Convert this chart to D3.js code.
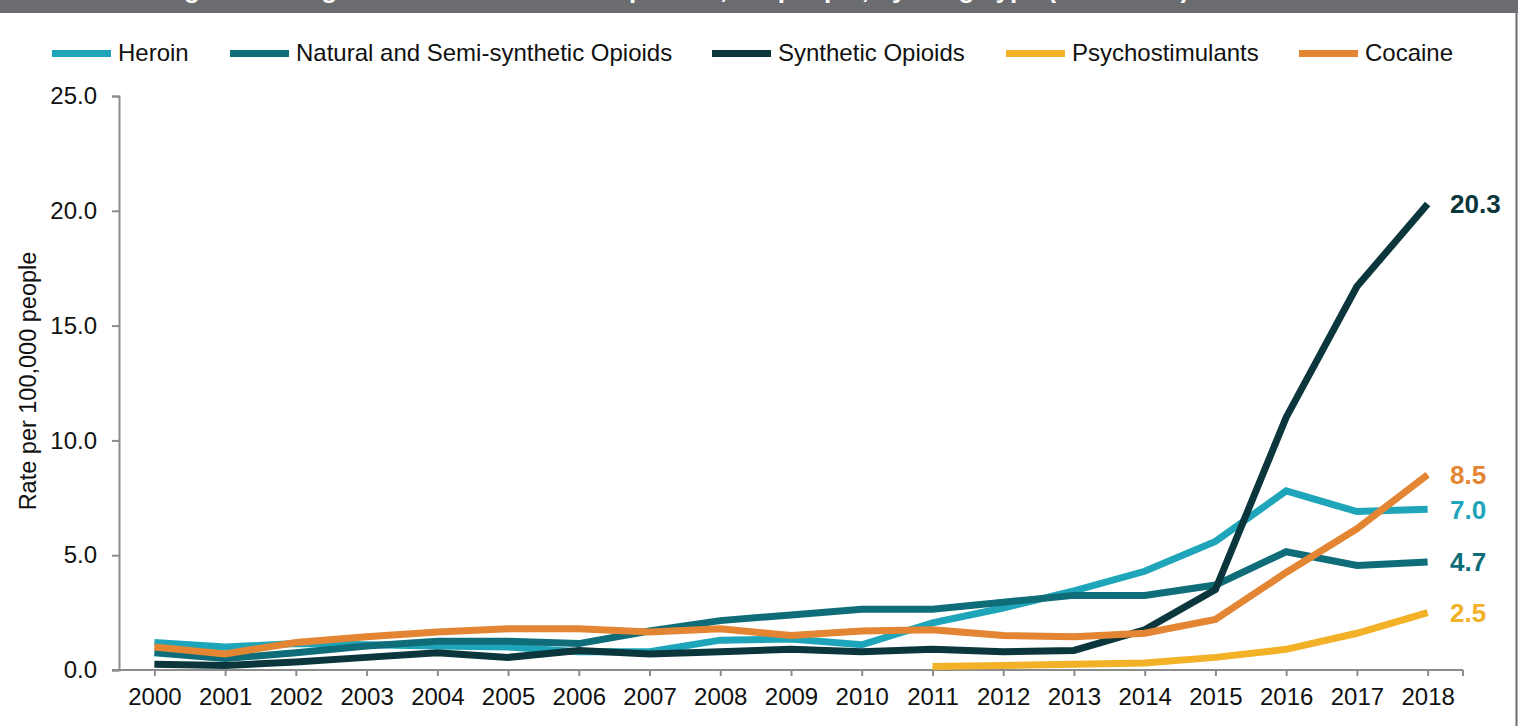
<!DOCTYPE html>
<html><head><meta charset="utf-8">
<script src="https://cdn.jsdelivr.net/npm/d3@7"></script>
<style>body{margin:0;background:#fff;} svg{display:block;font-family:"Liberation Sans",Arial,sans-serif;}</style>
</head><body><svg id="c" width="1518" height="726"></svg>
<script>
const years = [2000,2001,2002,2003,2004,2005,2006,2007,2008,2009,2010,2011,2012,2013,2014,2015,2016,2017,2018];
const heroin     = [1.2,1.0,1.15,1.1,1.05,1.0,0.8,0.8,1.3,1.35,1.1,2.05,2.7,3.45,4.3,5.6,7.8,6.9,7.0];
const natural    = [0.75,0.5,0.75,1.05,1.25,1.25,1.15,1.7,2.15,2.4,2.65,2.65,2.95,3.25,3.25,3.7,5.15,4.55,4.7];
const synthetic  = [0.25,0.2,0.35,0.55,0.75,0.55,0.85,0.7,0.8,0.9,0.8,0.9,0.8,0.85,1.75,3.5,11.0,16.7,20.3];
const psycho     = [null,null,null,null,null,null,null,null,null,null,null,0.15,0.2,0.25,0.3,0.55,0.9,1.6,2.5];
const cocaine    = [1.0,0.7,1.2,1.45,1.65,1.8,1.8,1.65,1.8,1.5,1.7,1.75,1.5,1.45,1.6,2.2,4.25,6.15,8.5];
const seriesNames = ["Heroin","Natural and Semi-synthetic Opioids","Synthetic Opioids","Psychostimulants","Cocaine"];
const yTicks = [0,5,10,15,20,25];
const yTitle = "Rate per 100,000 people";
const title = "Figure 2. Drug Overdose Death Rates per 100,000 people, by Drug Type (2000-2018)";

const colors = ["#1fa5b9","#0e6d78","#0a363c","#f2b127","#e38532"];
const allSeries = [heroin, natural, synthetic, psycho, cocaine];

const svg = d3.select("#c");
const x = d3.scalePoint().domain(years).range([119,1463]).padding(0.5);
const y = d3.scaleLinear().domain([0,25]).range([670,96]);

// title bar (title text is cut off by the top edge, as in the source)
svg.append("rect").attr("x",0).attr("y",0).attr("width",1518).attr("height",13).attr("fill","#6b6c70");
svg.append("text").attr("x",675).attr("y",-2).attr("text-anchor","middle")
  .attr("fill","#fff").attr("font-weight","bold").attr("font-size",26).text(title);
// right border
svg.append("line").attr("x1",1516.5).attr("x2",1516.5).attr("y1",13).attr("y2",726)
  .attr("stroke","#6b6c70").attr("stroke-width",2);

// y axis
const ya = svg.append("g").attr("transform","translate(119,0)")
  .call(d3.axisLeft(y).tickValues(yTicks).tickFormat(d3.format(".1f")).tickSizeOuter(0).tickSize(7).tickPadding(15));
ya.select(".domain").attr("stroke","#8c8c8c").attr("stroke-width",2);
ya.selectAll(".tick line").attr("stroke","#8c8c8c").attr("stroke-width",2);
ya.selectAll(".tick text").attr("font-size",24).attr("fill","#111").attr("font-family","Liberation Sans, Arial, sans-serif");

// x axis
const xa = svg.append("g").attr("transform","translate(0,670)")
  .call(d3.axisBottom(x).tickSizeOuter(0).tickSize(6).tickPadding(12));
xa.select(".domain").remove();
svg.append("line").attr("x1",112).attr("x2",1463).attr("y1",670).attr("y2",670).attr("stroke","#8c8c8c").attr("stroke-width",2);
svg.append("line").attr("x1",1463).attr("x2",1463).attr("y1",670).attr("y2",676).attr("stroke","#8c8c8c").attr("stroke-width",2);
xa.selectAll(".tick line").attr("stroke","#8c8c8c").attr("stroke-width",2);
xa.selectAll(".tick text").attr("font-size",24).attr("fill","#111").attr("font-family","Liberation Sans, Arial, sans-serif");

// y title
svg.append("text").attr("transform","translate(36,381) rotate(-90)").attr("text-anchor","middle")
  .attr("font-size",23.5).attr("fill","#111").text(yTitle);

// lines
const line = d3.line().defined(d=>d.v!=null).x(d=>x(d.year)).y(d=>y(d.v));
allSeries.forEach((s,i)=>{
  const data = years.map((yr,j)=>({year:yr,v:s[j]}));
  svg.append("path").datum(data).attr("d",line).attr("fill","none")
    .attr("stroke",colors[i]).attr("stroke-width",7).attr("stroke-linejoin","miter").attr("stroke-linecap","butt");
});

// end labels
allSeries.forEach((s,i)=>{
  const v = s[s.length-1];
  svg.append("text").attr("x",1450).attr("y",y(v)).attr("dy","0.36em")
    .attr("font-size",26).attr("font-weight","bold").attr("fill",colors[i]).text(d3.format(".1f")(v));
});

// legend
const legX = [52,230,712,1006,1299];
seriesNames.forEach((n,i)=>{
  svg.append("rect").attr("x",legX[i]).attr("y",50).attr("width",59).attr("height",7).attr("fill",colors[i]);
  svg.append("text").attr("x",legX[i]+66).attr("y",61).attr("font-size",24).attr("fill","#111").text(n);
});
</script></body></html>
